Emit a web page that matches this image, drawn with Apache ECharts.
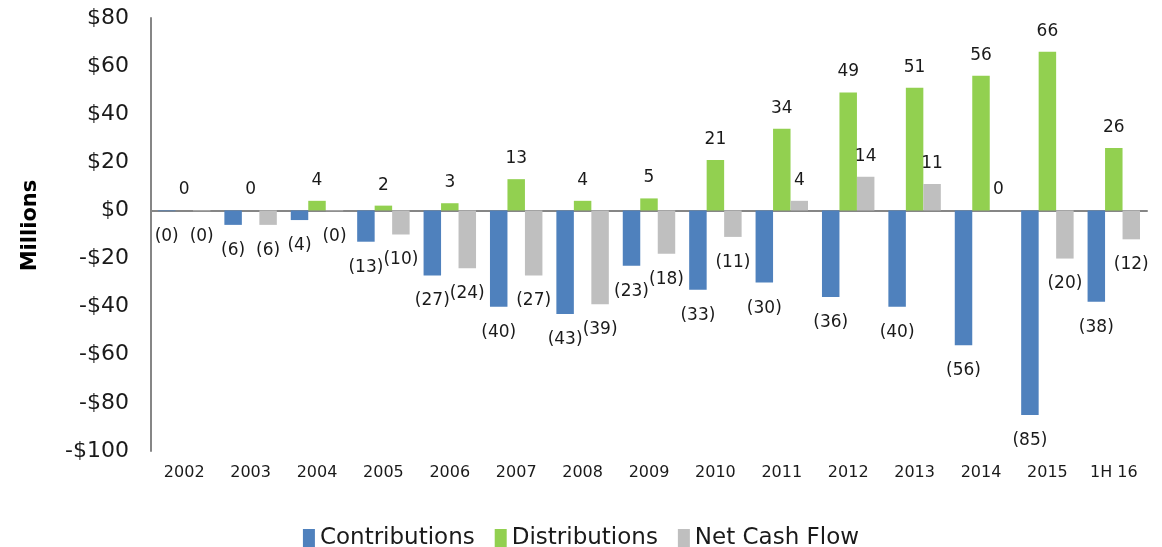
<!DOCTYPE html>
<html>
<head>
<meta charset="utf-8">
<script src="https://cdn.jsdelivr.net/npm/echarts@6/dist/echarts.min.js"></script>
<style>
  html, body { margin: 0; padding: 0; background: #fff; }
  #chart { width: 1162px; height: 547px; }
</style>
</head>
<body>
<div id="chart"></div>
<script>
// cash flows, $ millions
var years = ['2002', '2003', '2004', '2005', '2006', '2007', '2008', '2009',
             '2010', '2011', '2012', '2013', '2014', '2015', '1H 16'];
var contributions = [-0.3, -6, -4, -13, -27, -40, -43, -23, -33, -30, -36, -40, -56, -85, -38];
var distributions = [0, 0, 4, 2, 3, 13, 4, 5, 21, 34, 49, 51, 56, 66, 26];
var netCashFlow = [-0.3, -6, -0.3, -10, -24, -27, -39, -18, -11, 4, 14, 11, 0, -20, -12];
var yTicks = [-100, -80, -60, -40, -20, 0, 20, 40, 60, 80];

var FONT = 'DejaVu Sans';

function fmtValue(v) {
    var n = Math.round(Math.abs(v));
    return v < 0 ? '(' + n + ')' : String(n);
}

// labels sit below negative bars, above positive ones
function makeData(values) {
    return values.map(function (v) {
        return {
            value: v,
            label: {
                position: v < 0 ? 'bottom' : 'top',
                distance: v < 0 ? 17 : 12
            }
        };
    });
}

function makeSeries(name, color, values) {
    return {
        name: name,
        type: 'bar',
        xAxisIndex: 0,
        barGap: '0%',
        barCategoryGap: '21%',
        itemStyle: { color: color },
        label: {
            show: true,
            color: '#1a1a1a',
            fontFamily: FONT,
            fontSize: 17,
            formatter: function (p) { return fmtValue(p.value); }
        },
        data: makeData(values)
    };
}

var chart = echarts.init(document.getElementById('chart'));
chart.setOption({
    animation: false,
    grid: { left: 151, right: 15, top: 18, bottom: 96 },
    legend: {
        top: 522,
        itemWidth: 12,
        itemHeight: 19,
        itemGap: 20,
        icon: 'rect',
        textStyle: { fontFamily: FONT, fontSize: 23, color: '#1a1a1a' },
        data: ['Contributions', 'Distributions', 'Net Cash Flow']
    },
    xAxis: [
        {
            type: 'category',
            data: years,
            position: 'bottom',
            axisLine: { show: false, onZero: false },
            axisTick: { show: false },
            axisLabel: { fontFamily: FONT, fontSize: 16, color: '#1a1a1a', margin: 14 }
        },
        {
            type: 'category',
            data: years,
            position: 'bottom',
            axisLine: { show: true, onZero: true, lineStyle: { color: '#868686', width: 2 } },
            axisTick: { show: false },
            axisLabel: { show: false }
        }
    ],
    yAxis: {
        type: 'value',
        min: yTicks[0],
        max: yTicks[yTicks.length - 1],
        interval: 20,
        name: 'Millions',
        nameLocation: 'middle',
        nameGap: 110,
        nameTextStyle: {
            fontFamily: FONT, fontSize: 21, fontWeight: 'bold', color: '#000',
            padding: [0, 0, 0, 18]
        },
        splitLine: { show: false },
        axisTick: { show: false },
        axisLine: { show: true, lineStyle: { color: '#868686', width: 2 } },
        axisLabel: {
            fontFamily: FONT,
            fontSize: 22,
            color: '#1a1a1a',
            margin: 22,
            formatter: function (v) {
                return v < 0 ? '-$' + Math.abs(v) : '$' + v;
            }
        }
    },
    series: [
        makeSeries('Contributions', '#4F81BD', contributions),
        makeSeries('Distributions', '#92D050', distributions),
        makeSeries('Net Cash Flow', '#BFBFBF', netCashFlow)
    ]
});
</script>
</body>
</html>
